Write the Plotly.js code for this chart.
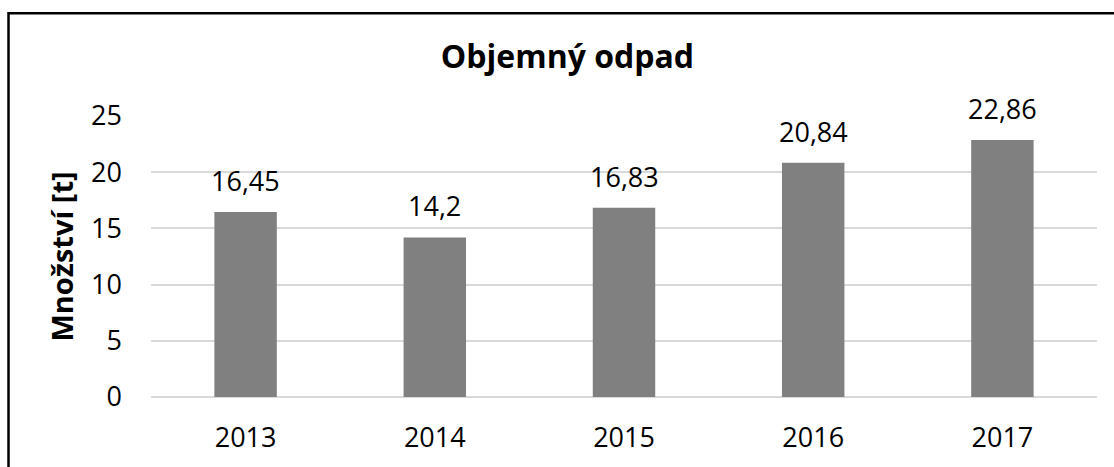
<!DOCTYPE html>
<html>
<head>
<meta charset="utf-8">
<script src="https://cdn.plot.ly/plotly-3.0.1.min.js"></script>
<style>
html,body{margin:0;padding:0;background:#fff;}
#chart{width:1114px;height:467px;}
</style>
</head>
<body>
<div id="chart"></div>
<script>
const years = ['2013', '2014', '2015', '2016', '2017'];
const amounts = [16.45, 14.2, 16.83, 20.84, 22.86];
const yTicks = [0, 5, 10, 15, 20, 25];
const chartTitle = 'Objemný odpad';
const yTitle = 'Množství [t]';

const FONT = '"Open Sans", "Noto Sans", sans-serif';
const labels = amounts.map(v => String(v).replace('.', ','));

const trace = {
  type: 'bar',
  x: years,
  y: amounts,
  marker: {color: '#808080'},
  hoverinfo: 'skip'
};

const annotations = years.map((yr, i) => ({
  x: i, y: amounts[i], xref: 'x', yref: 'y',
  text: labels[i], showarrow: false,
  yanchor: 'bottom', yshift: 11,
  font: {family: FONT, size: 27, color: '#000'}
}));

const layout = {
  width: 1114, height: 467,
  margin: {l: 151, r: 17, t: 116, b: 70},
  paper_bgcolor: '#fff', plot_bgcolor: '#fff',
  showlegend: false,
  bargap: 0.67,
  title: {
    text: '<b>' + chartTitle + '</b>',
    x: 0.5094, xref: 'container', xanchor: 'center',
    y: 1 - 57/467, yref: 'container', yanchor: 'middle',
    font: {family: FONT, size: 32, color: '#000'}
  },
  xaxis: {
    type: 'category',
    categoryorder: 'array',
    categoryarray: years,
    range: [-0.5, years.length - 0.5],
    autorange: false,
    showgrid: false, showline: false, zeroline: false,
    ticks: '', ticklabelstandoff: 22,
    tickfont: {family: FONT, size: 27, color: '#000'}
  },
  yaxis: {
    range: [0, 25],
    autorange: false,
    tickvals: yTicks,
    ticktext: yTicks.map(String),
    showgrid: true, gridcolor: '#d9d9d9', gridwidth: 2,
    zeroline: true, zerolinecolor: '#d9d9d9', zerolinewidth: 2,
    showline: false, ticks: '', ticklabelstandoff: 28,
    tickfont: {family: FONT, size: 27, color: '#000'},
    title: {text: '<b>' + yTitle + '</b>', standoff: 8,
            font: {family: FONT, size: 29, color: '#000'}}
  },
  annotations: annotations,
  shapes: [{
    type: 'rect', xref: 'paper', yref: 'paper',
    x0: (8.5 - 151) / 946, x1: 1.2,
    y0: -0.5, y1: (397 - 13.3) / 281,
    line: {color: '#000', width: 2.5},
    fillcolor: 'rgba(0,0,0,0)', layer: 'above'
  }]
};

Plotly.newPlot('chart', [trace], layout, {displayModeBar: false, staticPlot: true});
</script>
</body>
</html>
